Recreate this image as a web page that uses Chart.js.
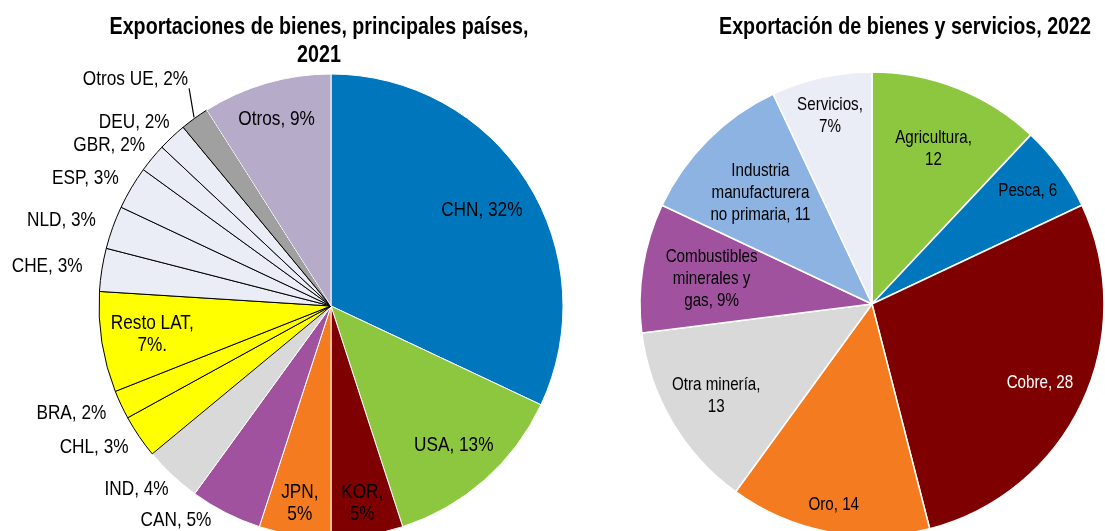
<!DOCTYPE html>
<html>
<head>
<meta charset="utf-8">
<script src="https://cdn.jsdelivr.net/npm/chart.js@4"></script>
<style>
  html, body { margin: 0; padding: 0; background: #fff; overflow: hidden; width: 1105px; height: 531px; }
  canvas { position: absolute; top: 0; }
  #izq { left: 0; }
  #der { left: 600px; }
</style>
</head>
<body>
<canvas id="izq" width="620" height="560"></canvas>
<canvas id="der" width="560" height="560"></canvas>
<script>
// Exportaciones de bienes, principales países, 2021 (%)
const paises = ['CHN', 'USA', 'KOR', 'JPN', 'CAN', 'IND', 'CHL', 'BRA', 'Resto LAT', 'CHE', 'NLD', 'ESP', 'GBR', 'DEU', 'Otros UE', 'Otros'];
const paisesValores = [32, 13, 5, 5, 5, 4, 3, 2, 7, 3, 3, 3, 2, 2, 2, 9];
const paisesEtiquetas = ['CHN, 32%', 'USA, 13%', 'KOR,\n5%', 'JPN,\n5%', 'CAN, 5%', 'IND, 4%', 'CHL, 3%', 'BRA, 2%',
  'Resto LAT,\n7%.', 'CHE, 3%', 'NLD, 3%', 'ESP, 3%', 'GBR, 2%', 'DEU, 2%', 'Otros UE, 2%', 'Otros, 9%'];

// Exportación de bienes y servicios, 2022 (%)
const sectores = ['Agricultura', 'Pesca', 'Cobre', 'Oro', 'Otra minería', 'Combustibles minerales y gas', 'Industria manufacturera no primaria', 'Servicios'];
const sectoresValores = [12, 6, 28, 14, 13, 9, 11, 7];
const sectoresEtiquetas = ['Agricultura,\n12', 'Pesca, 6', 'Cobre, 28', 'Oro, 14', 'Otra minería,\n13',
  'Combustibles\nminerales y\ngas, 9%', 'Industria\nmanufacturera\nno primaria, 11', 'Servicios,\n7%'];

// colores
const AZUL = '#0077BD', VERDE = '#8DC63F', GRANATE = '#7F0000', NARANJA = '#F47B20',
  MORADO = '#A0529F', GRIS = '#D9D9D9', AMARILLO = '#FFFF00', CLARO = '#EAEDF5',
  GRIS2 = '#A0A0A0', LILA = '#B7ABCA', CELESTE = '#8DB3E2';

// fuente estrecha (si no existe, se comprime Liberation Sans)
const probe = document.createElement('canvas').getContext('2d');
probe.font = '20px "Liberation Sans Narrow", serif';
const wA = probe.measureText('Exportaciones de bienes').width;
probe.font = '20px serif';
const wB = probe.measureText('Exportaciones de bienes').width;
const hayNarrow = Math.abs(wA - wB) > 0.5;
const FAM = hayNarrow ? '"Liberation Sans Narrow", "Arial Narrow", sans-serif' : '"Liberation Sans", Arial, sans-serif';
const ESC = hayNarrow ? 1 : 0.82;

function ancho(ctx, s, size, bold) {
  ctx.font = (bold ? 'bold ' : '') + size + 'px ' + FAM;
  return ctx.measureText(s).width * ESC;
}
function texto(ctx, s, x, y, size, bold, color) {
  ctx.save();
  ctx.font = (bold ? 'bold ' : '') + size + 'px ' + FAM;
  ctx.fillStyle = color || '#000';
  ctx.textAlign = 'center';
  ctx.textBaseline = 'middle';
  ctx.translate(x, y);
  ctx.scale(ESC, 1);
  ctx.fillText(s, 0, 0);
  ctx.restore();
}

// etiquetas de datos dibujadas sobre los arcos calculados por Chart.js
const etiquetasPlugin = {
  id: 'etiquetas',
  afterDatasetsDraw(chart, args, o) {
    const ctx = chart.ctx;
    const arcs = chart.getDatasetMeta(0).data;
    arcs.forEach((arc, i) => {
      const p = arc.getProps(['x', 'y', 'startAngle', 'endAngle', 'outerRadius'], true);
      const mid = (p.startAngle + p.endAngle) / 2;
      const c = Math.cos(mid), s = Math.sin(mid);
      const lineas = o.textos[i].split('\n');
      const lh = o.interlinea;
      const w = Math.max(...lineas.map(l => ancho(ctx, l, o.size)));
      const h = lineas.length * lh;
      let cx, cy;
      const pos = o.posicion[i];
      if (typeof pos === 'number') {
        cx = p.x + p.outerRadius * pos * c;
        cy = p.y + p.outerRadius * pos * s;
      } else {
        const g = pos.gap;
        cx = p.x + (p.outerRadius + g) * c + w / 2 * c;
        cy = p.y + (p.outerRadius + g) * s;
        // si la etiqueta queda fuera de la vista, se sube y se aparta del borde
        if (o.limite && cy + h / 2 > o.limite) {
          cy = o.limite - h / 2;
          const dy = cy - p.y;
          const dx = Math.sqrt(Math.max(p.outerRadius * p.outerRadius - dy * dy, 0));
          cx = c < 0 ? p.x - dx - g - w / 2 : p.x + dx + g + w / 2;
        }
        if (pos.guia) {
          ctx.save();
          ctx.strokeStyle = '#000';
          ctx.lineWidth = 1.2;
          ctx.beginPath();
          ctx.moveTo(cx + w / 2 + 1, cy + h / 2 - 2);
          ctx.lineTo(p.x + (p.outerRadius + 1) * c, p.y + (p.outerRadius + 1) * s);
          ctx.stroke();
          ctx.restore();
        }
      }
      lineas.forEach((l, k) => {
        texto(ctx, l, cx, cy - h / 2 + lh / 2 + k * lh, o.size, false, o.colores ? o.colores[i] : '#000');
      });
    });
    (o.titulo || []).forEach(t => texto(ctx, t.s, t.x, t.y, 24, true, '#000'));
  }
};

const fuera = { gap: 20 };

new Chart(document.getElementById('izq'), {
  type: 'pie',
  plugins: [etiquetasPlugin],
  data: {
    labels: paises,
    datasets: [{
      data: paisesValores,
      backgroundColor: [AZUL, VERDE, GRANATE, NARANJA, MORADO, GRIS, AMARILLO, AMARILLO, AMARILLO,
        CLARO, CLARO, CLARO, CLARO, CLARO, GRIS2, LILA],
      borderColor: ['#fff', '#fff', '#fff', '#fff', '#fff', '#fff', '#000', '#000', '#000',
        '#000', '#000', '#000', '#000', '#000', '#000', '#fff'],
      borderWidth: 1,
      hoverOffset: 0
    }]
  },
  options: {
    responsive: false,
    animation: false,
    radius: 232,
    layout: { padding: { left: 91, top: 66, right: 49, bottom: 14 } },
    plugins: {
      legend: { display: false },
      tooltip: { enabled: false },
      etiquetas: {
        textos: paisesEtiquetas,
        size: 21,
        interlinea: 22,
        limite: 531,
        posicion: [0.77, 0.8, 0.86, 0.86, { gap: 30 }, fuera, fuera, fuera, 0.78,
          fuera, fuera, fuera, fuera, fuera, { gap: 48, guia: true }, 0.84],
        titulo: [
          { s: 'Exportaciones de bienes, principales países,', x: 319, y: 27 },
          { s: '2021', x: 319, y: 55 }
        ]
      }
    }
  }
});

new Chart(document.getElementById('der'), {
  type: 'pie',
  plugins: [etiquetasPlugin],
  data: {
    labels: sectores,
    datasets: [{
      data: sectoresValores,
      backgroundColor: [VERDE, AZUL, GRANATE, NARANJA, GRIS, MORADO, CELESTE, CLARO],
      borderColor: '#fff',
      borderWidth: 1.5,
      hoverOffset: 0
    }]
  },
  options: {
    responsive: false,
    animation: false,
    radius: 232,
    layout: { padding: { left: 32, top: 64, right: 48, bottom: 16 } },
    plugins: {
      legend: { display: false },
      tooltip: { enabled: false },
      etiquetas: {
        textos: sectoresEtiquetas,
        size: 18.5,
        interlinea: 22,
        colores: ['#000', '#000', '#fff', '#000', '#000', '#000', '#000', '#000'],
        posicion: [0.72, 0.83, 0.8, 0.88, 0.78, 0.7, 0.68, 0.83],
        titulo: [
          { s: 'Exportación de bienes y servicios, 2022', x: 305, y: 27 }
        ]
      }
    }
  }
});
</script>
</body>
</html>
